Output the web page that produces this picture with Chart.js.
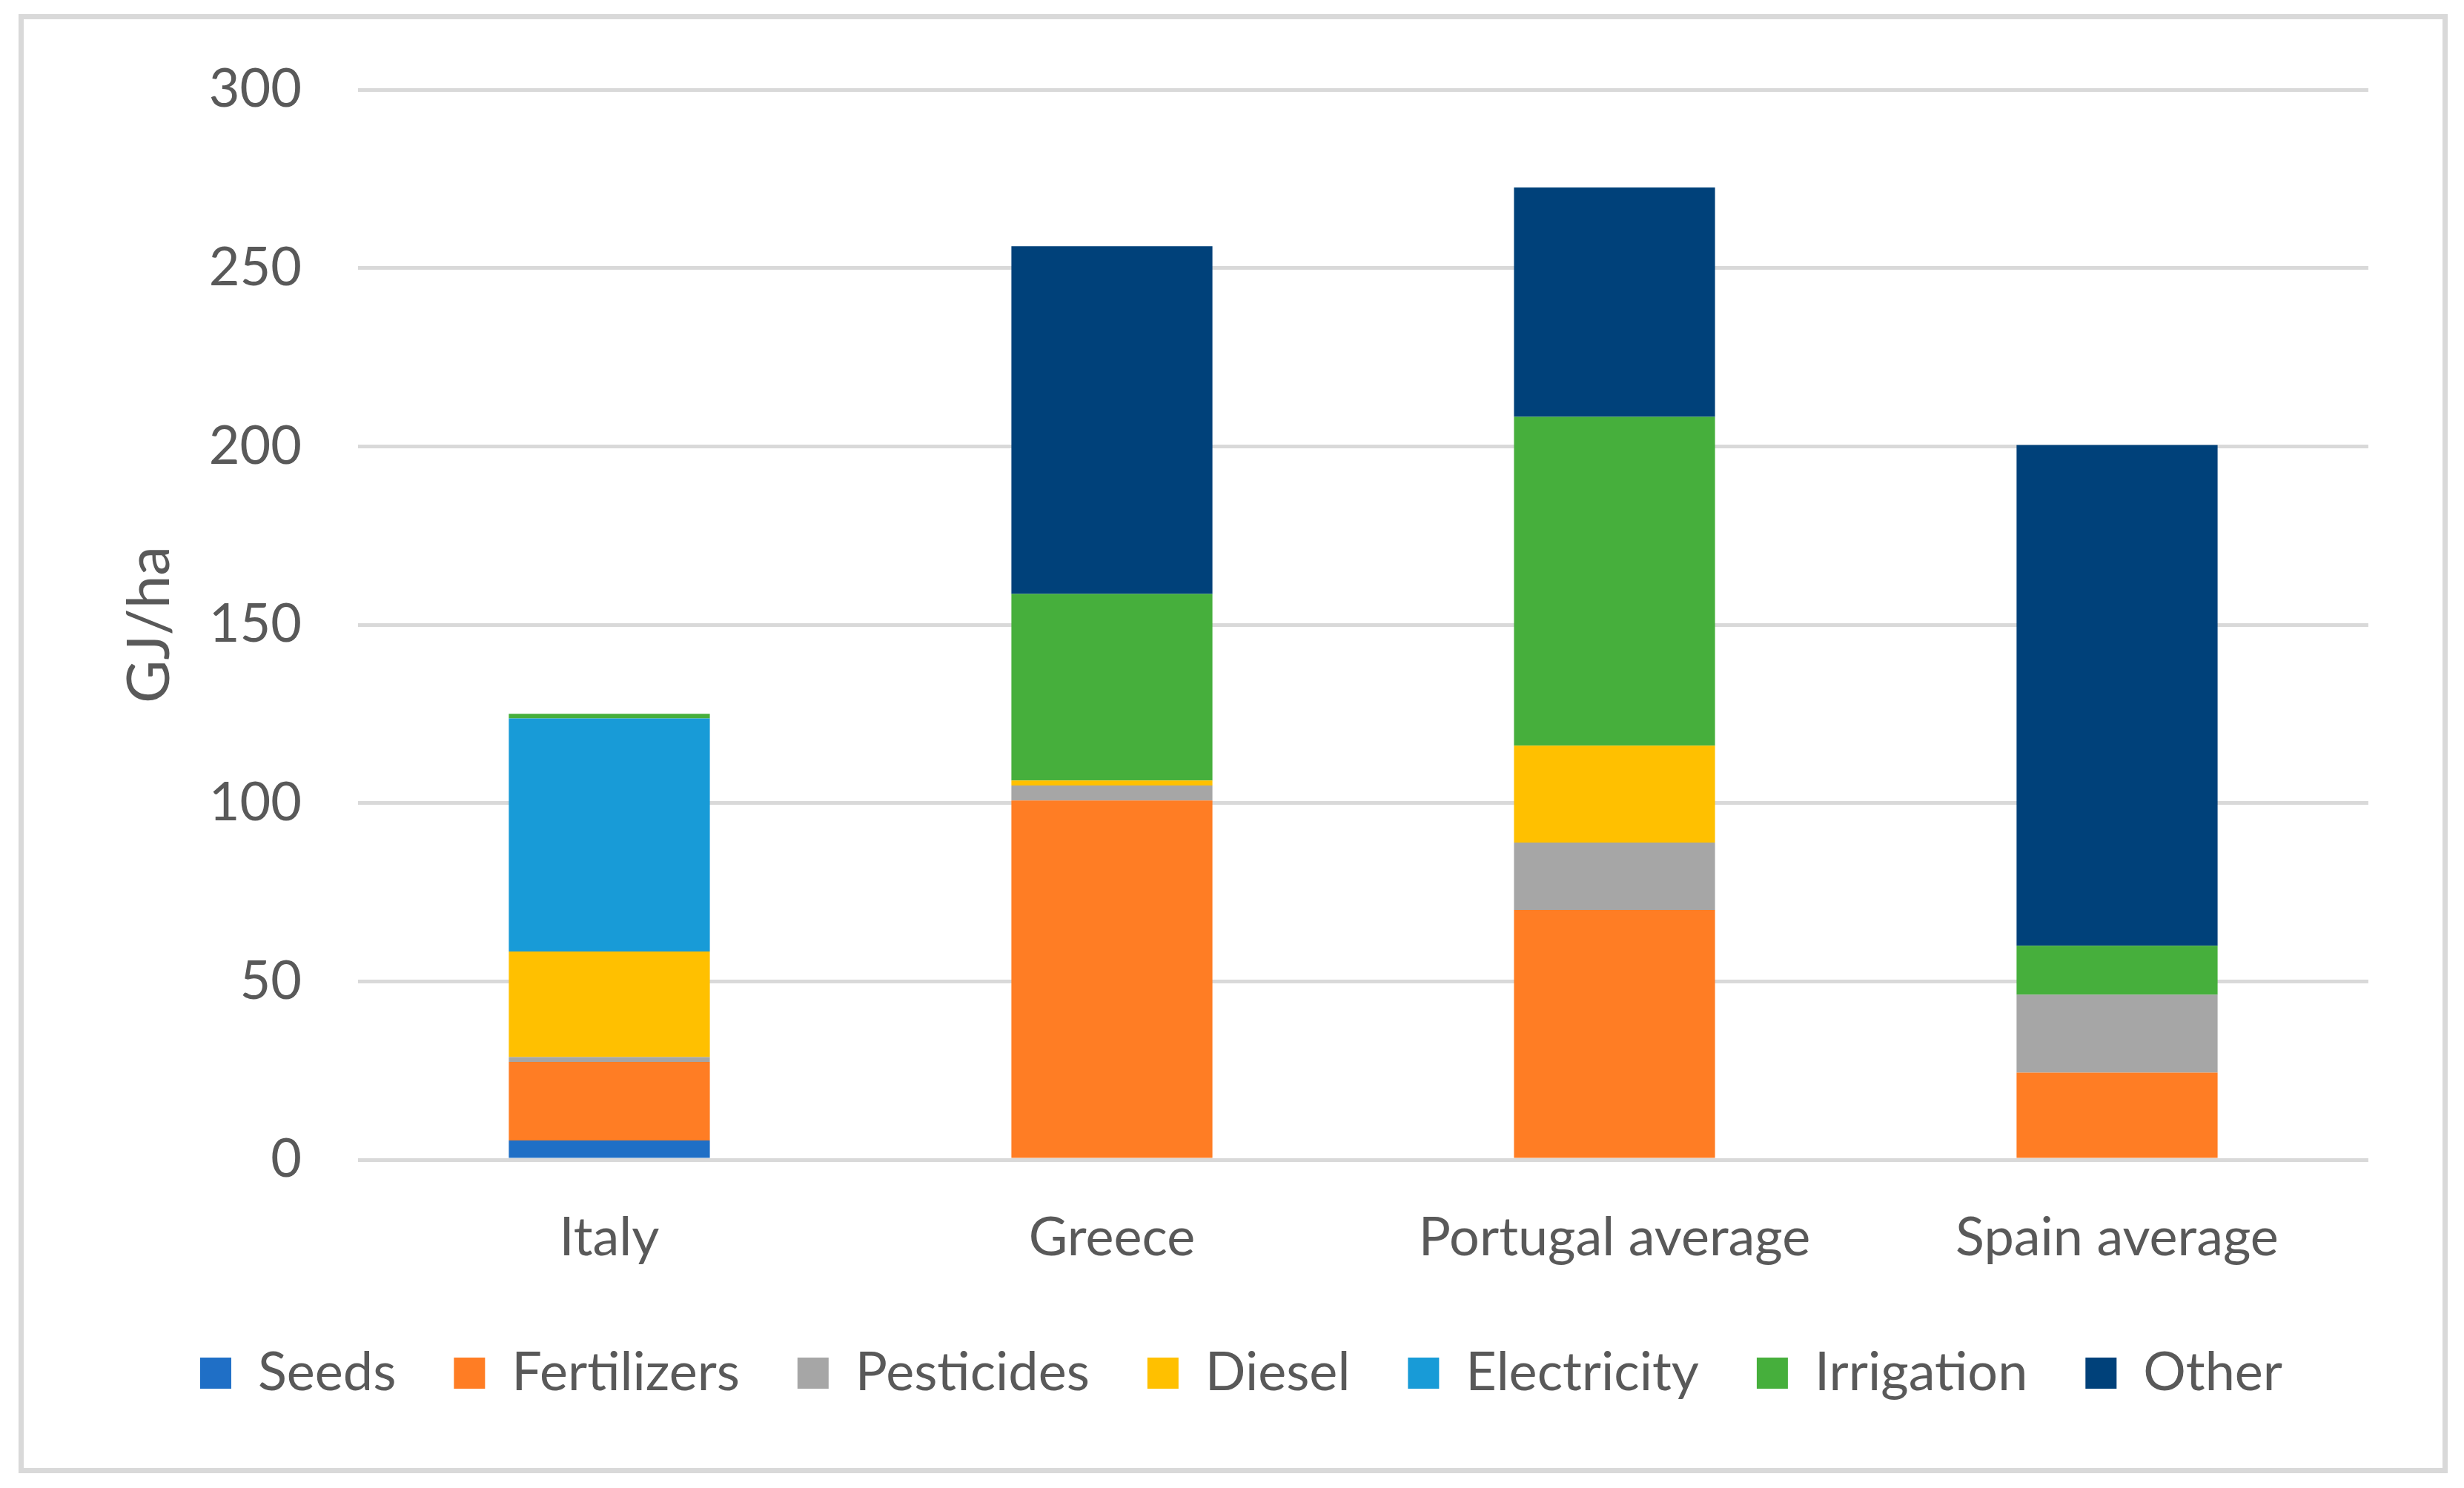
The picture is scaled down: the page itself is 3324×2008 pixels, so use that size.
<!DOCTYPE html>
<html>
<head>
<meta charset="utf-8">
<script src="https://cdn.jsdelivr.net/npm/chart.js@4.4.1/dist/chart.umd.min.js"></script>
<style>
    html, body { margin: 0; padding: 0; background: #fff; }
    #wrap  { position: absolute; left: 0; top: 0; width: 3324px; height: 2008px; }
    #frame {
        position: absolute; left: 25px; top: 19px; width: 3277px; height: 1969px;
        box-sizing: border-box; border: 7px solid #d9d9d9; pointer-events: none;
    }
</style>
</head>
<body>
<div id="wrap"><canvas id="chart-energy"></canvas></div>
<div id="frame"></div>
<script>
const CATEGORIES  = ['Italy', 'Greece', 'Portugal average', 'Spain average'];
const SEEDS       = [5.4, 0, 0, 0];
const FERTILIZERS = [22.0, 100.7, 70.0, 24.4];
const PESTICIDES  = [1.4, 4.2, 18.9, 21.9];
const DIESEL      = [29.6, 1.4, 27.2, 0];
const ELECTRICITY = [65.3, 0, 0, 0];
const IRRIGATION  = [1.3, 52.3, 92.2, 13.7];
const OTHER       = [0, 97.5, 64.3, 140.4];

const Y_MIN = 0, Y_MAX = 300, Y_STEP = 50;

const TEXT_COLOR = '#595959';
Chart.defaults.font.family = 'Lato, "Open Sans", sans-serif';
Chart.defaults.color = TEXT_COLOR;

function series(label, data, color) {
    return { label, data, backgroundColor: color, borderWidth: 0 };
}

const chartEnergy = new Chart(document.getElementById('chart-energy').getContext('2d'), {
    type: 'bar',
    data: {
        labels: CATEGORIES,
        datasets: [
            series('Seeds',       SEEDS,       '#1F6FC6'),
            series('Fertilizers', FERTILIZERS, '#FF7D24'),
            series('Pesticides',  PESTICIDES,  '#A6A6A6'),
            series('Diesel',      DIESEL,      '#FFC000'),
            series('Electricity', ELECTRICITY, '#189BD7'),
            series('Irrigation',  IRRIGATION,  '#46AF3C'),
            series('Other',       OTHER,       '#00417A'),
        ]
    },
    options: {
        responsive: true,
        maintainAspectRatio: false,
        animation: false,
        datasets: { bar: { categoryPercentage: 1, barPercentage: 0.40 } },
        layout: { padding: { left: 154, right: 129, top: 121, bottom: 109 } },
        plugins: {
            tooltip: { enabled: false },
            legend: {
                position: 'bottom',
                labels: {
                    boxWidth: 42, boxHeight: 42, padding: 78,
                    color: TEXT_COLOR, font: { size: 72 }
                }
            }
        },
        scales: {
            x: {
                stacked: true,
                grid: { display: false },
                border: { display: false },
                ticks: { padding: 55, color: TEXT_COLOR, font: { size: 72 }, maxRotation: 0 },
                afterFit: s => { s.height = 174; }
            },
            y: {
                stacked: true,
                min: Y_MIN, max: Y_MAX,
                border: { display: false },
                grid: { color: '#d9d9d9', lineWidth: 5, drawTicks: false },
                ticks: { stepSize: Y_STEP, padding: 76, color: TEXT_COLOR, font: { size: 72 } },
                title: {
                    display: true, text: 'GJ/ha', color: TEXT_COLOR,
                    font: { size: 80 }, padding: { top: 0, bottom: 0 }
                },
                afterFit: s => { s.width = 483 - 154; }
            }
        }
    }
});
</script>
</body>
</html>
